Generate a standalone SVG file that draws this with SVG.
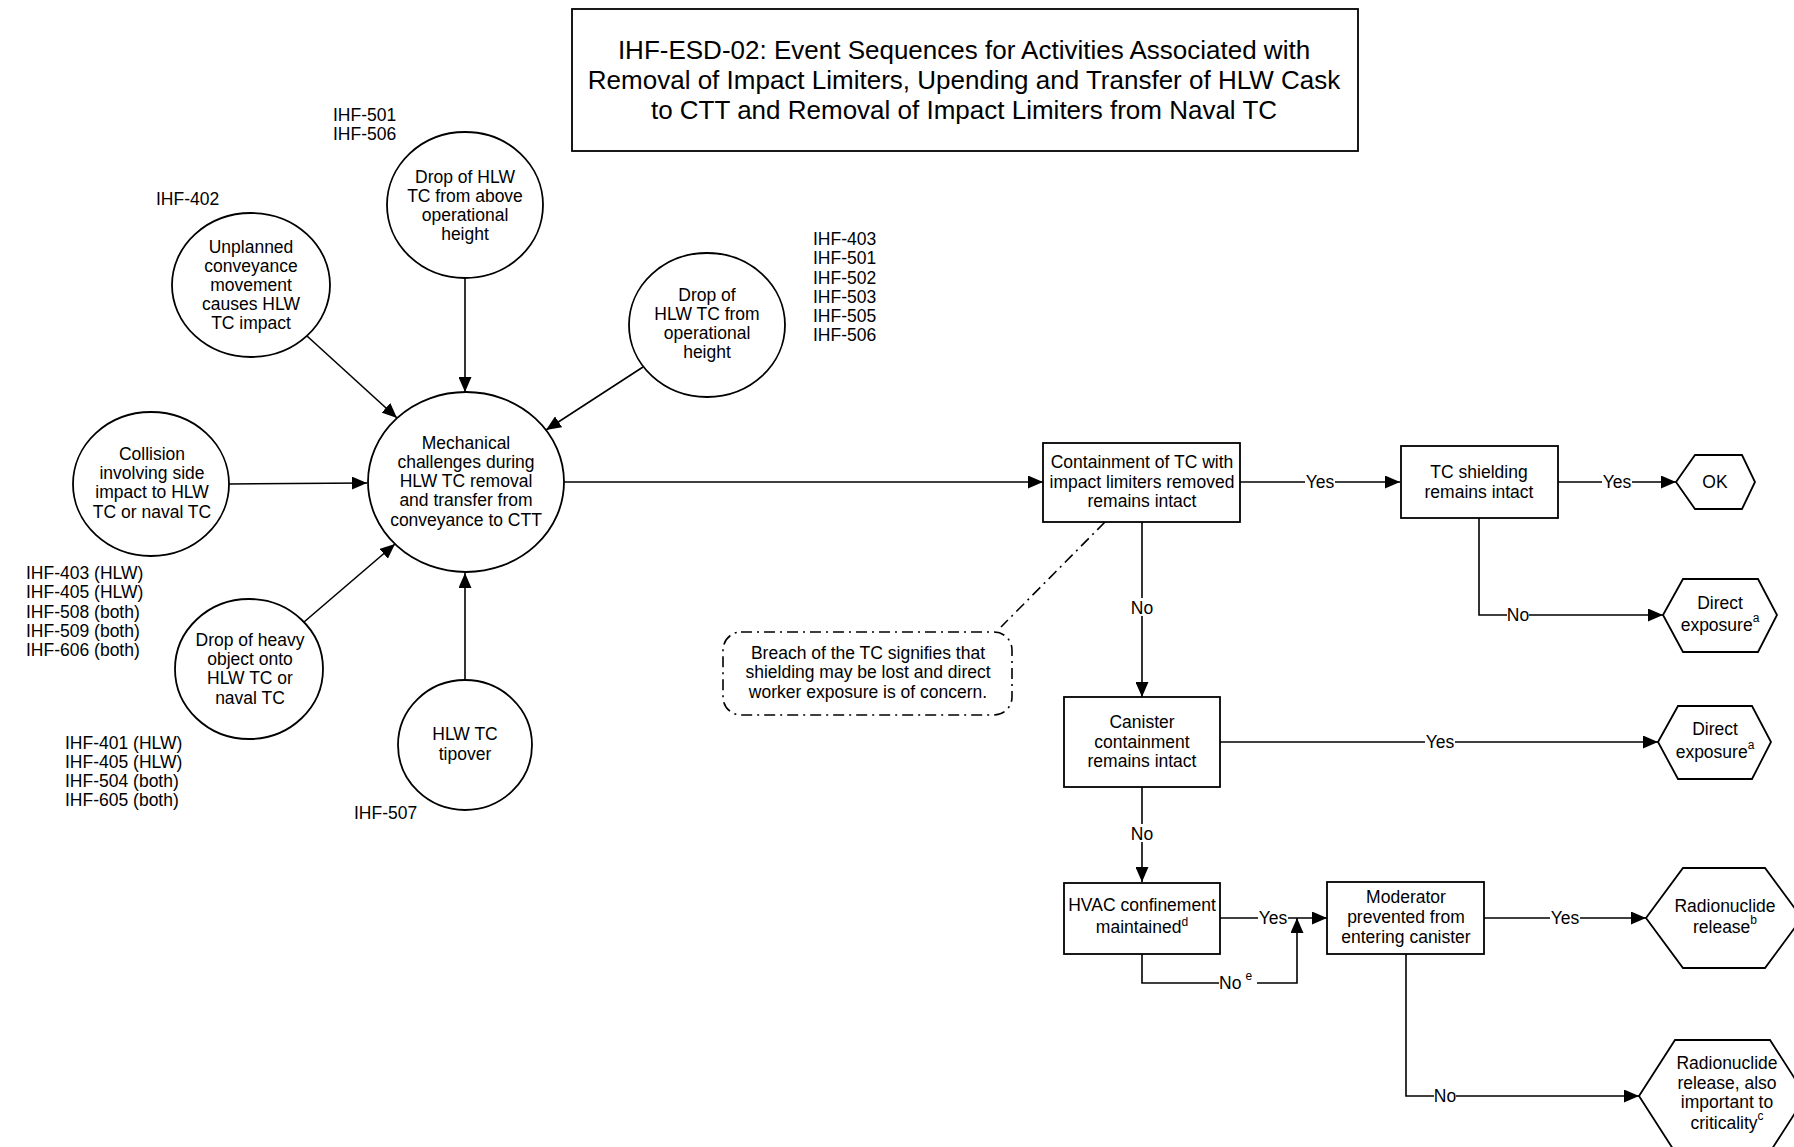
<svg xmlns="http://www.w3.org/2000/svg" width="1794" height="1147" viewBox="0 0 1794 1147">
  <style>
    text { font-family: "Liberation Sans", Arial, sans-serif; font-size: 17.5px; fill: #000; }
    .c { text-anchor: middle; }
    .title { font-size: 26px; text-anchor: middle; }
    .shape { fill: #fff; stroke: #000; stroke-width: 1.8; }
    .line { fill: none; stroke: #000; stroke-width: 1.6; }
    .arrow { marker-end: url(#arr); }
    .note { fill: #fff; stroke: #000; stroke-width: 1.6; stroke-dasharray: 11 5 2 5; }
    .dashdot { fill: none; stroke: #000; stroke-width: 1.6; stroke-dasharray: 11 5 2 5; }
    .lblbg { fill: #fff; }
    .sup { font-size: 12px; }
  </style>
  <defs>
    <marker id="arr" markerUnits="userSpaceOnUse" markerWidth="15" markerHeight="13" refX="15" refY="6.5" orient="auto">
      <path d="M0,0 L15,6.5 L0,13 z" fill="#000"/>
    </marker>
  </defs>

  <rect width="1794" height="1147" fill="#fff"/>

  <!-- Title -->
  <g id="title">
    <rect class="shape" x="572" y="9" width="786" height="142"/>
    <text class="title" x="964" y="59">IHF-ESD-02: Event Sequences for Activities Associated with</text>
    <text class="title" x="964" y="89">Removal of Impact Limiters, Upending and Transfer of HLW Cask</text>
    <text class="title" x="964" y="119">to CTT and Removal of Impact Limiters from Naval TC</text>
  </g>

  <!-- Initiating-event reference lists -->
  <g id="refs">
    <text x="333" y="121">IHF-501</text>
    <text x="333" y="140">IHF-506</text>
    <text x="156" y="205">IHF-402</text>
    <text x="813" y="245">IHF-403</text>
    <text x="813" y="264">IHF-501</text>
    <text x="813" y="284">IHF-502</text>
    <text x="813" y="303">IHF-503</text>
    <text x="813" y="322">IHF-505</text>
    <text x="813" y="341">IHF-506</text>
    <text x="26" y="579">IHF-403 (HLW)</text>
    <text x="26" y="598">IHF-405 (HLW)</text>
    <text x="26" y="618">IHF-508 (both)</text>
    <text x="26" y="637">IHF-509 (both)</text>
    <text x="26" y="656">IHF-606 (both)</text>
    <text x="65" y="749">IHF-401 (HLW)</text>
    <text x="65" y="768">IHF-405 (HLW)</text>
    <text x="65" y="787">IHF-504 (both)</text>
    <text x="65" y="806">IHF-605 (both)</text>
    <text x="354" y="819">IHF-507</text>
  </g>

  <!-- Connectors -->
  <g id="connectors">
    <path class="line arrow" d="M307,336 L397,418"/>
    <path class="line arrow" d="M465,278 L465,392"/>
    <path class="line arrow" d="M643,367 L546,430"/>
    <path class="line arrow" d="M229,484 L367,483"/>
    <path class="line arrow" d="M304,622 L395,544"/>
    <path class="line arrow" d="M465,680 L465,573"/>
    <path class="line arrow" d="M564,482 L1043,482"/>
    <path class="line arrow" d="M1240,482 L1400,482"/>
    <path class="line arrow" d="M1557,482 L1676,482"/>
    <path class="line arrow" d="M1479,518 L1479,615 L1663,615"/>
    <path class="line arrow" d="M1142,522 L1142,697"/>
    <path class="line arrow" d="M1220,742 L1658,742"/>
    <path class="line arrow" d="M1142,787 L1142,882"/>
    <path class="line arrow" d="M1220,918 L1327,918"/>
    <path class="line arrow" d="M1142,954 L1142,983 L1297,983 L1297,918"/>
    <path class="line arrow" d="M1484,918 L1646,918"/>
    <path class="line arrow" d="M1406,954 L1406,1096 L1639,1096"/>
    <path class="dashdot" d="M1105,522 L1001,627"/>

    <!-- branch labels -->
    <rect class="lblbg" x="1305" y="474" width="30" height="16"/>
    <text class="c" x="1320" y="488">Yes</text>
    <rect class="lblbg" x="1602" y="474" width="30" height="16"/>
    <text class="c" x="1617" y="488">Yes</text>
    <rect class="lblbg" x="1507" y="607" width="22" height="16"/>
    <text class="c" x="1518" y="621">No</text>
    <rect class="lblbg" x="1131" y="598" width="22" height="18"/>
    <text class="c" x="1142" y="614">No</text>
    <rect class="lblbg" x="1425" y="734" width="30" height="16"/>
    <text class="c" x="1440" y="748">Yes</text>
    <rect class="lblbg" x="1131" y="824" width="22" height="18"/>
    <text class="c" x="1142" y="840">No</text>
    <rect class="lblbg" x="1258" y="910" width="30" height="16"/>
    <text class="c" x="1273" y="924">Yes</text>
    <rect class="lblbg" x="1219" y="975" width="38" height="16"/>
    <text x="1219" y="989">No<tspan class="sup" dx="4" dy="-9">e</tspan></text>
    <rect class="lblbg" x="1550" y="910" width="30" height="16"/>
    <text class="c" x="1565" y="924">Yes</text>
    <rect class="lblbg" x="1434" y="1088" width="22" height="16"/>
    <text class="c" x="1445" y="1102">No</text>
  </g>

  <!-- Initiating events -->
  <g id="n-unplanned">
    <ellipse class="shape" cx="251" cy="285" rx="79" ry="72"/>
    <text class="c" x="251" y="253">Unplanned</text>
    <text class="c" x="251" y="272">conveyance</text>
    <text class="c" x="251" y="291">movement</text>
    <text class="c" x="251" y="310">causes HLW</text>
    <text class="c" x="251" y="329">TC impact</text>
  </g>
  <g id="n-drop-above">
    <ellipse class="shape" cx="465" cy="205" rx="78" ry="73"/>
    <text class="c" x="465" y="183">Drop of HLW</text>
    <text class="c" x="465" y="202">TC from above</text>
    <text class="c" x="465" y="221">operational</text>
    <text class="c" x="465" y="240">height</text>
  </g>
  <g id="n-drop-operational">
    <ellipse class="shape" cx="707" cy="325" rx="78" ry="72"/>
    <text class="c" x="707" y="301">Drop of</text>
    <text class="c" x="707" y="320">HLW TC from</text>
    <text class="c" x="707" y="339">operational</text>
    <text class="c" x="707" y="358">height</text>
  </g>
  <g id="n-collision">
    <ellipse class="shape" cx="151" cy="484" rx="78" ry="72"/>
    <text class="c" x="152" y="460">Collision</text>
    <text class="c" x="152" y="479">involving side</text>
    <text class="c" x="152" y="498">impact to HLW</text>
    <text class="c" x="152" y="518">TC or naval TC</text>
  </g>
  <g id="n-mechanical">
    <ellipse class="shape" cx="466" cy="482" rx="98" ry="90"/>
    <text class="c" x="466" y="449">Mechanical</text>
    <text class="c" x="466" y="468">challenges during</text>
    <text class="c" x="466" y="487">HLW TC removal</text>
    <text class="c" x="466" y="506">and transfer from</text>
    <text class="c" x="466" y="526">conveyance to CTT</text>
  </g>
  <g id="n-heavy-object">
    <ellipse class="shape" cx="249" cy="669" rx="74" ry="70"/>
    <text class="c" x="250" y="646">Drop of heavy</text>
    <text class="c" x="250" y="665">object onto</text>
    <text class="c" x="250" y="684">HLW TC or</text>
    <text class="c" x="250" y="704">naval TC</text>
  </g>
  <g id="n-tipover">
    <ellipse class="shape" cx="465" cy="745" rx="67" ry="65"/>
    <text class="c" x="465" y="740">HLW TC</text>
    <text class="c" x="465" y="760">tipover</text>
  </g>

  <!-- Pivotal events -->
  <g id="n-containment">
    <rect class="shape" x="1043" y="443" width="197" height="79"/>
    <text class="c" x="1142" y="468">Containment of TC with</text>
    <text class="c" x="1142" y="488">impact limiters removed</text>
    <text class="c" x="1142" y="507">remains intact</text>
  </g>
  <g id="n-shielding">
    <rect class="shape" x="1401" y="446" width="157" height="72"/>
    <text class="c" x="1479" y="478">TC shielding</text>
    <text class="c" x="1479" y="498">remains intact</text>
  </g>
  <g id="n-canister">
    <rect class="shape" x="1064" y="697" width="156" height="90"/>
    <text class="c" x="1142" y="728">Canister</text>
    <text class="c" x="1142" y="748">containment</text>
    <text class="c" x="1142" y="767">remains intact</text>
  </g>
  <g id="n-hvac">
    <rect class="shape" x="1064" y="883" width="156" height="71"/>
    <text class="c" x="1142" y="911">HVAC confinement</text>
    <text class="c" x="1142" y="933">maintained<tspan class="sup" dy="-7">d</tspan></text>
  </g>
  <g id="n-moderator">
    <rect class="shape" x="1327" y="882" width="157" height="72"/>
    <text class="c" x="1406" y="903">Moderator</text>
    <text class="c" x="1406" y="923">prevented from</text>
    <text class="c" x="1406" y="943">entering canister</text>
  </g>

  <!-- End states -->
  <g id="n-ok">
    <polygon class="shape" points="1676,482 1695,455 1742,455 1755,482 1742,509 1695,509"/>
    <text class="c" x="1715" y="488">OK</text>
  </g>
  <g id="n-exposure-1">
    <polygon class="shape" points="1663,615 1683,579 1758,579 1777,615 1758,652 1683,652"/>
    <text class="c" x="1720" y="609">Direct</text>
    <text class="c" x="1720" y="631">exposure<tspan class="sup" dy="-9">a</tspan></text>
  </g>
  <g id="n-exposure-2">
    <polygon class="shape" points="1658,742 1678,706 1752,706 1771,742 1752,779 1678,779"/>
    <text class="c" x="1715" y="735">Direct</text>
    <text class="c" x="1715" y="758">exposure<tspan class="sup" dy="-9">a</tspan></text>
  </g>
  <g id="n-release">
    <polygon class="shape" points="1646,918 1683,868 1765,868 1802,918 1765,968 1683,968"/>
    <text class="c" x="1725" y="912">Radionuclide</text>
    <text class="c" x="1725" y="933">release<tspan class="sup" dy="-9">b</tspan></text>
  </g>
  <g id="n-release-criticality">
    <polygon class="shape" points="1639,1096 1675,1040 1770,1040 1806,1096 1770,1152 1675,1152"/>
    <text class="c" x="1727" y="1069">Radionuclide</text>
    <text class="c" x="1727" y="1089">release, also</text>
    <text class="c" x="1727" y="1108">important to</text>
    <text class="c" x="1727" y="1129">criticality<tspan class="sup" dy="-9">c</tspan></text>
  </g>

  <!-- Annotation -->
  <g id="n-note">
    <rect class="note" x="723" y="632" width="289" height="83" rx="18" ry="18"/>
    <text class="c" x="868" y="659">Breach of the TC signifies that</text>
    <text class="c" x="868" y="678">shielding may be lost and direct</text>
    <text class="c" x="868" y="698">worker exposure is of concern.</text>
  </g>
</svg>
